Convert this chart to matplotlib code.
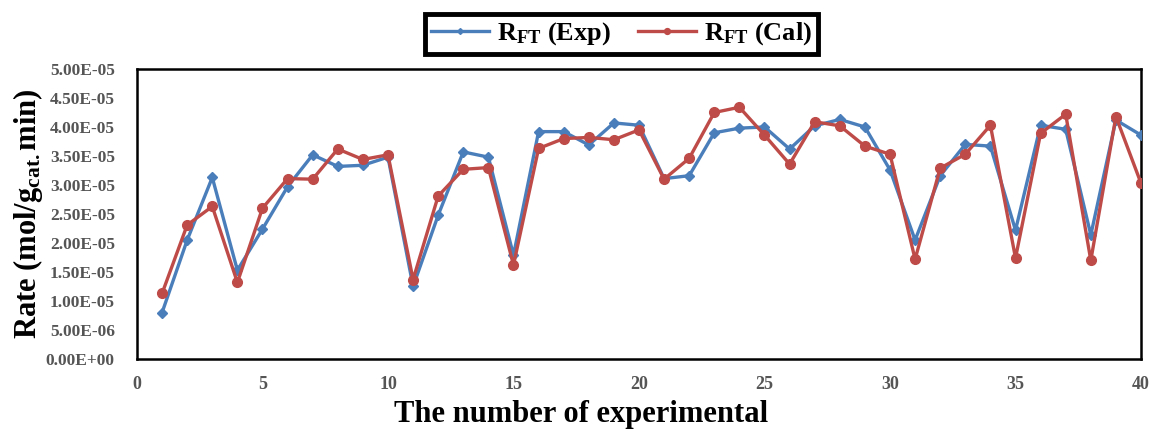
import numpy as np
import matplotlib
matplotlib.use("Agg")
import matplotlib.pyplot as plt
from matplotlib.ticker import FuncFormatter

plt.rcParams["font.family"] = ["Liberation Serif", "DejaVu Serif"]
plt.rcParams["mathtext.fontset"] = "custom"
plt.rcParams["mathtext.rm"] = "Liberation Serif:bold"
plt.rcParams["mathtext.it"] = "Liberation Serif:bold"
plt.rcParams["mathtext.bf"] = "Liberation Serif:bold"

# experiment number
run = np.arange(1, 41)

# reaction rate, mol/(g_cat.min), in units of 1e-6
rate_exp = [8.0, 20.5, 31.3, 15.3, 22.4, 29.7, 35.2, 33.2, 33.4, 34.8,
            12.5, 24.8, 35.7, 34.8, 17.9, 39.2, 39.2, 36.9, 40.7, 40.3,
            31.1, 31.6, 39.0, 39.8, 40.0, 36.2, 40.2, 41.3, 40.0, 32.6,
            20.5, 31.6, 37.0, 36.7, 22.2, 40.3, 39.6, 21.4, 41.2, 38.6]
rate_cal = [11.3, 23.1, 26.3, 13.2, 26.0, 31.1, 31.0, 36.2, 34.4, 35.2,
            13.7, 28.1, 32.7, 33.0, 16.2, 36.3, 38.0, 38.2, 37.8, 39.5,
            31.0, 34.6, 42.5, 43.4, 38.6, 33.6, 40.9, 40.2, 36.7, 35.3,
            17.2, 32.9, 35.3, 40.3, 17.4, 38.9, 42.2, 17.0, 41.8, 30.3]

rate_exp = np.array(rate_exp) * 1e-6
rate_cal = np.array(rate_cal) * 1e-6

fig = plt.figure(figsize=(11.53, 4.29), dpi=100)
ax = fig.add_axes([0.1188, 0.1632, 0.8708, 0.676])

ax.plot(run, rate_exp, color="#4a7ebb", lw=2.4, marker="D", ms=5,
        label=r"R$_{\mathrm{FT}}$ (Exp)", zorder=3)
ax.plot(run, rate_cal, color="#be4b48", lw=2.4, marker="o", ms=7,
        label=r"R$_{\mathrm{FT}}$ (Cal)", zorder=4)

ax.set_xlim(0, 40)
ax.set_ylim(0, 5e-5)
ax.set_xticks(np.arange(0, 41, 5))
ax.set_yticks(np.arange(0, 5.01e-5, 5e-6))
ax.yaxis.set_major_formatter(FuncFormatter(lambda v, p: "%.2E" % v))
ax.tick_params(axis="y", length=0, pad=16, labelsize=12.5)
ax.tick_params(axis="x", length=0, pad=12, labelsize=13)
for lab in ax.get_yticklabels() + ax.get_xticklabels():
    lab.set_fontweight("bold")
    lab.set_color("#555555")

for s in ax.spines.values():
    s.set_linewidth(1.8)
    s.set_color("black")

ax.set_xlabel("The number of experimental", fontsize=22, fontweight="bold")
ax.xaxis.set_label_coords(0.442, -0.14)
ax.set_ylabel(r"Rate (mol/g$_{\mathrm{cat.}}$min)", fontsize=22,
              fontweight="bold")
ax.yaxis.set_label_coords(-0.092, 0.5)

leg = fig.legend(loc="center", bbox_to_anchor=(0.539, 0.921), ncol=2,
                 fancybox=False, framealpha=1, edgecolor="black",
                 prop={"size": 19, "weight": "bold"},
                 handlelength=2.2, columnspacing=1.0, handletextpad=0.3,
                 borderpad=0.25, markerscale=0.6)
leg.get_frame().set_linewidth(3.5)

fig.savefig("out.png", dpi=100)
